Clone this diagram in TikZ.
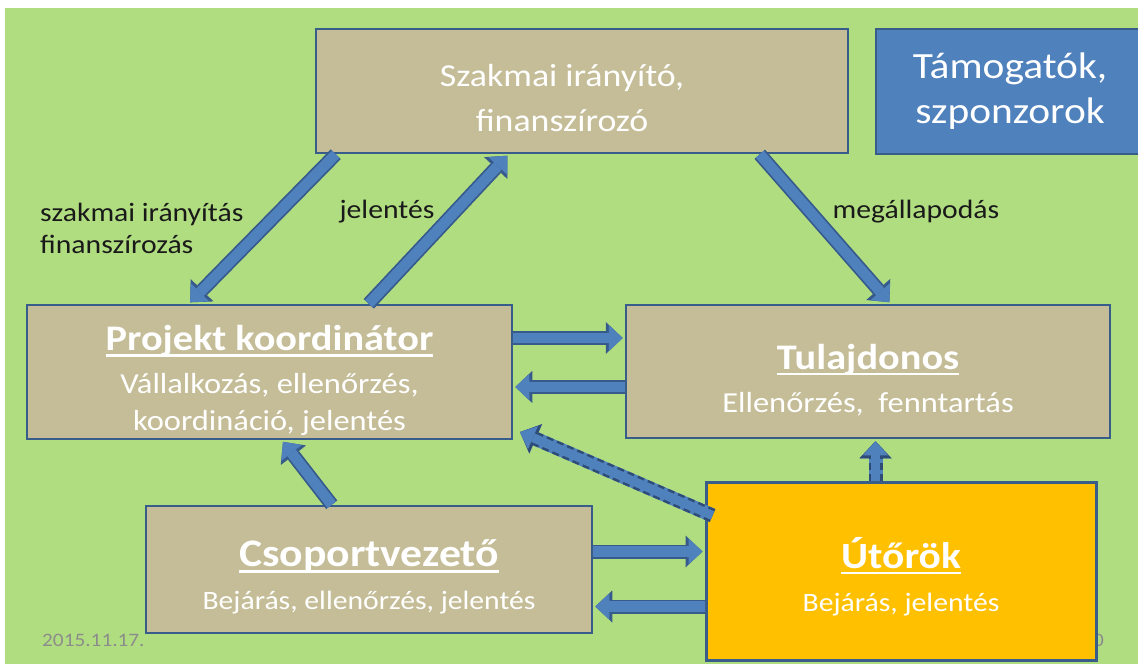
\documentclass[tikz,border=0pt]{standalone}
\usepackage{fontspec}
\setmainfont{Carlito}[FakeStretch=1.12]
\usetikzlibrary{arrows.meta,calc}
\definecolor{bggreen}{RGB}{177,221,129}
\definecolor{tan}{RGB}{196,189,151}
\definecolor{boxedge}{RGB}{56,93,138}
\definecolor{boxblue}{RGB}{79,129,189}
\definecolor{arrowedge}{RGB}{54,90,140}
\definecolor{orange}{RGB}{255,192,0}
% underlined bold title
\newcommand{\ttl}[2][36]{{\fontsize{#1}{44}\selectfont\bfseries\rule{0pt}{42pt}%
  \setbox0\hbox{#2}\rlap{\rule[-6pt]{\wd0}{2.3pt}}\box0}}
\tikzset{
  box/.style={draw=boxedge, line width=2.5pt, fill=tan, text=white, align=center,
    font=\fontsize{29}{37}\selectfont, inner sep=0pt},
  lbl/.style={text=black!90, font=\fontsize{26.5}{32}\selectfont, align=left, inner sep=0pt},
  flow/.style={draw=boxblue, line width=10.5pt, shorten >=2pt,
    -{Triangle[length=14pt,width=26pt,line width=0pt]},
    preaction={draw=arrowedge, line width=14pt, -{Triangle[length=17pt,width=32pt,line width=0pt]}}},
  dflow/.style={draw=boxblue, line width=9pt, shorten >=2pt,
    -{Triangle[length=14pt,width=25pt,line width=0pt]},
    preaction={draw=boxblue, line width=14pt, -{Triangle[length=17pt,width=32pt,line width=0pt]}},
    preaction={draw=arrowedge!85!black, line width=14pt, dash pattern=on 7pt off 4pt,
      -{Triangle[length=17pt,width=32pt,line width=0pt]}}}
}
\begin{document}
\begin{tikzpicture}[x=1pt, y=-1pt]
\useasboundingbox (0,0) rectangle (1138,664);
\fill[bggreen] (5,8) rectangle (1138,664);

% labels
\node[lbl, anchor=west] (lsz) at (40,228) {szakmai irányítás\\finanszírozás};
\node[lbl] (ljel) at (387,212) {jelentés};
\node[lbl] (lmeg) at (916,212) {megállapodás};
\node[text=black!45, font=\fontsize{19}{22}\selectfont, anchor=west, inner sep=0pt] (date) at (42,640) {2015.11.17.};
\node[text=black!45, font=\fontsize{19}{22}\selectfont, anchor=east, inner sep=0pt] (num) at (1104,640) {10};

% boxes
\node[box, minimum width=532pt, minimum height=124pt, font=\fontsize{32}{45}\selectfont] (szak) at (582,91) {\rule{0pt}{36pt}Szakmai irányító,\hspace*{40pt}\\finanszírozó\hspace*{40pt}};
\node[box, fill=boxblue, minimum width=268pt, minimum height=125pt, font=\fontsize{37}{45}\selectfont] (tam) at (1010,91.5) {Támogatók,\\szponzorok};
\node[box, minimum width=485pt, minimum height=134pt] (proj) at (269.5,372) {\ttl{Projekt koordinátor}\\[6pt]Vállalkozás, ellenőrzés,\\koordináció, jelentés};
\node[box, minimum width=484pt, minimum height=133pt] (tul) at (868,371.5) {\ttl{Tulajdonos}\\[6pt]Ellenőrzés,\ \ fenntartás};
\node[box, minimum width=446pt, minimum height=127pt, font=\fontsize{26.5}{37}\selectfont] (csop) at (369,569.5) {\ttl[39]{Csoportvezető}\\[6pt]Bejárás, ellenőrzés, jelentés};
\node[box, fill=orange, line width=3pt, minimum width=390pt, minimum height=178pt, font=\fontsize{26.5}{37}\selectfont] (utor) at (901,571) {\ttl[37]{Útőrök}\\[6pt]Bejárás, jelentés};

% connectors
\draw[flow] ([xshift=21pt]szak.south west) -- ([xshift=163pt]proj.north west);
\draw[flow] ([xshift=343pt]proj.north west) -- ([xshift=194pt]szak.south west);
\draw[flow] ([xshift=445pt]szak.south west) -- ([xshift=266pt]tul.north west);
\draw[flow] ([yshift=34pt]proj.east) -- ([yshift=34pt]proj.east -| tul.west);
\draw[flow] ([yshift=-15pt]proj.east -| tul.west) -- ([yshift=-15pt]proj.east);
\draw[flow] ([xshift=187pt]csop.north west) -- ([xshift=256pt]proj.south west);
\draw[flow] ([yshift=18pt]csop.east) -- ([yshift=18pt]csop.east -| utor.west);
\draw[flow] ([yshift=-37pt]csop.east -| utor.west) -- ([yshift=-37pt]csop.east);
\draw[dflow] ([xshift=8pt,yshift=-35pt]utor.north west) -- ([xshift=5pt,yshift=9pt]proj.south east);
\draw[dflow] ([xshift=171pt]utor.north west) -- ([xshift=171pt]utor.north west |- tul.south);
\end{tikzpicture}
\end{document}
